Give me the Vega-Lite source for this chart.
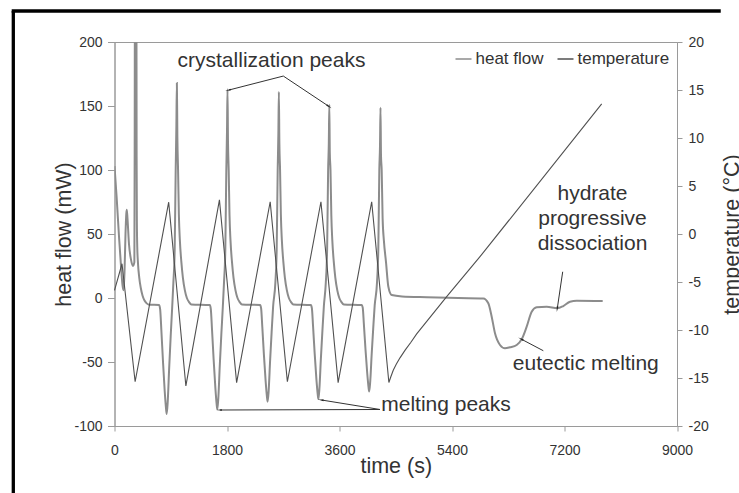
{
  "$schema": "https://vega.github.io/schema/vega-lite/v6.json",
  "width": 562.5,
  "height": 384,
  "autosize": {"type": "none"},
  "padding": {"left": 114.5, "top": 42, "right": 62, "bottom": 67},
  "background": "white",
  "config": {
    "font": "Liberation Sans",
    "locale": {"number": {"decimal": ".", "thousands": ",", "grouping": [3], "currency": ["$", ""], "minus": "-"}},
    "view": {"stroke": "#9a9a9a", "strokeWidth": 1},
    "axis": {"grid": false, "domainColor": "#9a9a9a", "tickColor": "#9a9a9a", "labelColor": "#333333", "titleColor": "#333333", "labelFontSize": 14, "titleFontSize": 21.5, "titleFontWeight": "normal", "labelFont": "Liberation Sans", "titleFont": "Liberation Sans", "labelFlush": false, "labelOverlap": false},
    "legend": {"orient": "top-right", "direction": "horizontal", "title": null, "symbolType": "stroke", "symbolSize": 256, "symbolStrokeWidth": 1.5, "labelFontSize": 17, "labelColor": "#333333", "labelFont": "Liberation Sans", "labelOffset": 3, "columnPadding": 10, "offset": 8, "padding": 0}
  },
  "datasets": {
    "heat": [
      {"t":0,"v":103},{"t":35,"v":78},{"t":72,"v":48},{"t":104,"v":25},{"t":128,"v":10},{"t":144,"v":6},{"t":160,"v":20},{"t":176,"v":50},{"t":189,"v":66},{"t":197,"v":69},{"t":208,"v":62},{"t":232,"v":42},{"t":264,"v":30},{"t":296,"v":25},{"t":318,"v":28},{"t":323,"v":120},{"t":327,"v":260},{"t":350,"v":260},{"t":354,"v":110},{"t":358,"v":60},{"t":364,"v":40},{"t":376,"v":27},{"t":396,"v":16},{"t":420,"v":8},{"t":448,"v":2},{"t":480,"v":-2},{"t":515,"v":-4.2},{"t":552,"v":-5.2},{"t":715,"v":-5.5},
      {"t":731,"v":-9.1},{"t":750,"v":-25.4},{"t":776,"v":-49.8},{"t":803,"v":-72.5},{"t":824,"v":-86.1},{"t":835,"v":-90.6},{"t":851,"v":-81.5},{"t":875,"v":-54.4},{"t":899,"v":-29.9},{"t":923,"v":-7.2},{"t":942,"v":12},{"t":963,"v":38},{"t":979,"v":100},{"t":990,"v":134.4},{"t":998,"v":168},{"t":1006,"v":126},{"t":1017,"v":100},{"t":1030,"v":65},{"t":1046,"v":45},{"t":1070,"v":28},{"t":1094,"v":16},{"t":1126,"v":6},{"t":1158,"v":0},{"t":1190,"v":-3},{"t":1230,"v":-5},
      {"t":1525,"v":-5.5},{"t":1541,"v":-8.7},{"t":1560,"v":-24.4},{"t":1586,"v":-47.9},{"t":1613,"v":-69.6},{"t":1634,"v":-82.7},{"t":1645,"v":-87},{"t":1661,"v":-78.3},{"t":1685,"v":-52.2},{"t":1709,"v":-28.7},{"t":1733,"v":-7},{"t":1752,"v":12},{"t":1773,"v":38},{"t":1789,"v":100},{"t":1800,"v":130.4},{"t":1808,"v":163},{"t":1816,"v":122},{"t":1827,"v":100},{"t":1840,"v":65},{"t":1856,"v":45},{"t":1880,"v":28},{"t":1904,"v":16},{"t":1936,"v":6},{"t":1968,"v":0},{"t":2000,"v":-3},{"t":2040,"v":-5},
      {"t":2330,"v":-5.5},{"t":2346,"v":-8.1},{"t":2365,"v":-22.7},{"t":2391,"v":-44.6},{"t":2418,"v":-64.8},{"t":2439,"v":-77},{"t":2450,"v":-81},{"t":2466,"v":-72.9},{"t":2490,"v":-48.6},{"t":2514,"v":-26.7},{"t":2538,"v":-6.5},{"t":2574,"v":12},{"t":2595,"v":38},{"t":2611,"v":100},{"t":2622,"v":128.8},{"t":2630,"v":161},{"t":2638,"v":121},{"t":2649,"v":100},{"t":2662,"v":65},{"t":2678,"v":45},{"t":2702,"v":28},{"t":2726,"v":16},{"t":2758,"v":6},{"t":2790,"v":0},{"t":2822,"v":-3},{"t":2862,"v":-5},
      {"t":3142,"v":-5.5},{"t":3158,"v":-7.9},{"t":3177,"v":-22.1},{"t":3203,"v":-43.5},{"t":3230,"v":-63.2},{"t":3251,"v":-75},{"t":3262,"v":-79},{"t":3278,"v":-71.1},{"t":3302,"v":-47.4},{"t":3326,"v":-26.1},{"t":3350,"v":-6.3},{"t":3381,"v":12},{"t":3402,"v":38},{"t":3418,"v":100},{"t":3429,"v":120.8},{"t":3437,"v":151},{"t":3445,"v":113},{"t":3456,"v":100},{"t":3469,"v":65},{"t":3485,"v":45},{"t":3509,"v":28},{"t":3533,"v":16},{"t":3565,"v":6},{"t":3597,"v":0},{"t":3629,"v":-3},{"t":3669,"v":-5},
      {"t":3955,"v":-5.5},{"t":3971,"v":-7.3},{"t":3990,"v":-20.4},{"t":4016,"v":-40.2},{"t":4043,"v":-58.4},{"t":4064,"v":-69.4},{"t":4075,"v":-73},{"t":4091,"v":-65.7},{"t":4115,"v":-43.8},{"t":4139,"v":-24.1},{"t":4163,"v":-5.8},{"t":4200,"v":12},{"t":4221,"v":38},{"t":4237,"v":100},{"t":4248,"v":119},{"t":4256,"v":148.7},{"t":4264,"v":111.5},{"t":4275,"v":100},{"t":4290,"v":62},{"t":4310,"v":45},{"t":4344,"v":28},{"t":4381,"v":9},{"t":4435,"v":2.3},{"t":4600,"v":1.2},{"t":5000,"v":0.6},{"t":5500,"v":0},{"t":5901,"v":-0.3},
      {"t":5981,"v":-4.1},{"t":6035,"v":-14.6},{"t":6088,"v":-27.6},{"t":6168,"v":-36.7},{"t":6248,"v":-39.3},{"t":6328,"v":-38.5},{"t":6435,"v":-36.7},{"t":6515,"v":-32.3},{"t":6595,"v":-22.4},{"t":6675,"v":-10.7},{"t":6755,"v":-7.3},{"t":6915,"v":-6.8},{"t":7085,"v":-8},{"t":7181,"v":-6.3},{"t":7288,"v":-2.9},{"t":7395,"v":-2.1},{"t":7811,"v":-2.3}
    ],
    "temp": [
      {"t":0,"v":-5.87},{"t":120,"v":-3.1},{"t":330,"v":-15.39},{"t":867,"v":3.31},{"t":1142,"v":-15.83},{"t":1679,"v":3.55},{"t":1954,"v":-15.49},{"t":2491,"v":3.36},{"t":2766,"v":-15.39},{"t":3303,"v":3.36},{"t":3578,"v":-15.49},{"t":4115,"v":3.36},{"t":4390,"v":-15.47},{"t":4420,"v":-14.9},{"t":4460,"v":-14.2},{"t":4510,"v":-13.55},{"t":4568,"v":-12.9},{"t":4650,"v":-12.1},{"t":4740,"v":-11.3},{"t":4835,"v":-10.4},{"t":5315,"v":-6.53},{"t":5848,"v":-2.36},{"t":7795,"v":13.55}
    ],
    "arrows": [
      {"arrow":"c1","t":2701,"v":173.4,"t2":1832,"v2":162.5},
      {"arrow":"c2","t":2701,"v":173.4,"t2":3421,"v2":150},
      {"arrow":"m1","t":4248,"v":-87.1,"t2":1688,"v2":-87.5},
      {"arrow":"m2","t":4248,"v":-87.1,"t2":3315,"v2":-79.7},
      {"arrow":"e","t":6861,"v":-41.2,"t2":6515,"v2":-32.3},
      {"arrow":"h","t":7171,"v":20.5,"t2":7085,"v2":-8}
    ],
    "notes": [
      {"label":"crystallization peaks","t":2512,"v":180.7},
      {"label":"melting peaks","t":5304,"v":-88.3},
      {"label":"eutectic melting","t":7541,"v":-56.25},
      {"label":"hydrate","t":7648,"v":76.6},
      {"label":"progressive","t":7648,"v":57.0},
      {"label":"dissociation","t":7648,"v":37.5}
    ]
  },
  "layer": [
    {
      "layer": [
        {
          "data": {"name": "heat"},
          "mark": {"type": "line", "clip": true, "interpolate": "monotone", "strokeWidth": 2, "color": "#8c8c8c"},
          "encoding": {
            "x": {"field": "t", "type": "quantitative", "title": "time (s)", "scale": {"domain": [0, 9000], "nice": false, "zero": false},
                  "axis": {"values": [0, 1800, 3600, 5400, 7200, 9000], "format": "d", "tickSize": 5, "labelPadding": 12, "titlePadding": -2}},
            "y": {"field": "v", "type": "quantitative", "title": "heat flow (mW)", "scale": {"domain": [-100, 200], "nice": false, "zero": false},
                  "axis": {"orient": "left", "values": [-100, -50, 0, 50, 100, 150, 200], "format": "d", "tickSize": 7, "labelPadding": 5.5, "titlePadding": -1.5}},
            "color": {"datum": "heat flow", "type": "nominal", "scale": {"domain": ["heat flow", "temperature"], "range": ["#8c8c8c", "#505050"]}}
          }
        },
        {
          "data": {"name": "arrows"},
          "mark": {"type": "rule", "color": "#333333", "strokeWidth": 1},
          "encoding": {
            "x": {"field": "t", "type": "quantitative", "title": "time (s)"},
            "x2": {"field": "t2"},
            "y": {"field": "v", "type": "quantitative", "title": "heat flow (mW)"},
            "y2": {"field": "v2"}
          }
        },
        {
          "data": {"name": "arrows"},
          "mark": {"type": "point", "shape": "wedge", "filled": true, "size": 45, "color": "#222222", "opacity": 1},
          "encoding": {
            "x": {"field": "t2", "type": "quantitative", "title": "time (s)"},
            "y": {"field": "v2", "type": "quantitative", "title": "heat flow (mW)"},
            "angle": {"field": "arrow", "type": "nominal", "legend": null, "scale": {"type": "ordinal", "domain": ["c1", "c2", "m1", "m2", "e", "h"], "range": [255.6, 123.6, 269.8, 279.2, 297.8, 188.4]}}
          }
        },
        {
          "data": {"name": "notes"},
          "mark": {"type": "text", "fontSize": 21, "color": "#333333", "align": "center", "baseline": "alphabetic", "font": "Liberation Sans"},
          "encoding": {
            "x": {"field": "t", "type": "quantitative", "title": "time (s)"},
            "y": {"field": "v", "type": "quantitative", "title": "heat flow (mW)"},
            "text": {"field": "label"}
          }
        },
        {
          "data": {"values": [{}]},
          "mark": {"type": "rule", "color": "#000000", "strokeWidth": 3.3},
          "encoding": {
            "x": {"datum": -1619, "type": "quantitative", "title": "time (s)"},
            "y": {"datum": 224.2, "type": "quantitative", "title": "heat flow (mW)"},
            "y2": {"datum": -165}
          }
        },
        {
          "data": {"values": [{}]},
          "mark": {"type": "rect", "color": "#000000", "strokeWidth": 0},
          "encoding": {
            "x": {"datum": -1645, "type": "quantitative", "title": "time (s)"},
            "x2": {"datum": 9700},
            "y": {"datum": 225.5, "type": "quantitative", "title": "heat flow (mW)"},
            "y2": {"datum": 222.9}
          }
        }
      ]
    },
    {
      "data": {"name": "temp"},
      "mark": {"type": "line", "strokeWidth": 1.1, "color": "#505050"},
      "encoding": {
        "x": {"field": "t", "type": "quantitative", "title": "time (s)"},
        "y": {"field": "v", "type": "quantitative", "title": "temperature (°C)", "scale": {"domain": [-20, 20], "nice": false, "zero": false},
              "axis": {"orient": "right", "values": [-20, -15, -10, -5, 0, 5, 10, 15, 20], "format": "d", "tickSize": 5, "labelPadding": 6, "titlePadding": 13, "titleAngle": 270, "titleBaseline": "top"}},
        "color": {"datum": "temperature", "type": "nominal"}
      }
    }
  ],
  "resolve": {"scale": {"y": "independent"}}
}
